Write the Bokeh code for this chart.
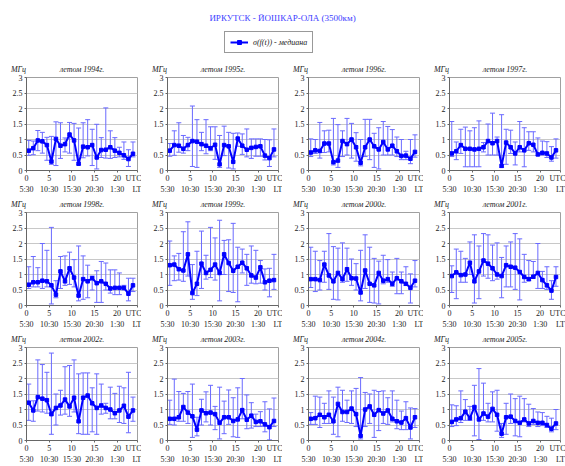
from bokeh.plotting import figure
from bokeh.models import (Range1d, Label, ColumnDataSource, Whisker, TeeHead, LinearAxis,
                          FixedTicker, Legend, LegendItem, NumeralTickFormatter)
from bokeh.layouts import column, row
from bokeh.embed import file_html
from bokeh.resources import INLINE

TITLE = "ИРКУТСК - ЙОШКАР-ОЛА (3500км)"
LEGEND_LABEL = "σ(f(t)) - медиана"
UNIT = "МГц"
hours = [0.5, 1.5, 2.5, 3.5, 4.5, 5.5, 6.5, 7.5, 8.5, 9.5, 10.5, 11.5,
         12.5, 13.5, 14.5, 15.5, 16.5, 17.5, 18.5, 19.5, 20.5, 21.5, 22.5, 23.5]
utc_ticks = [0, 5, 10, 15, 20]
utc_labels = ["0", "5", "10", "15", "20"]
lt_labels = ["5:30", "10:30", "15:30", "20:30", "1:30"]
y_ticks = [0, 0.5, 1, 1.5, 2, 2.5, 3]

med_1994 = [0.64,0.72,0.97,0.94,0.82,0.29,1.02,0.80,0.85,1.16,0.97,0.22,0.77,0.75,0.82,0.42,0.66,0.67,0.75,0.64,0.57,0.49,0.37,0.54]
up_1994 = [0.97,0.95,1.29,1.23,1.07,1.10,1.57,1.54,1.05,1.55,1.52,1.37,1.54,1.64,1.33,1.49,1.06,2.02,1.28,1.06,0.75,0.92,0.67,0.92]
lo_1994 = [0.49,0.51,0.64,0.56,0.33,0.20,0.16,0.39,0.60,0.56,0.33,0.18,0.41,0.47,0.16,0.05,0.42,0.40,0.39,0.42,0.44,0.36,0.13,0.44]

med_1995 = [0.64,0.82,0.80,0.70,0.82,0.95,0.93,0.85,0.80,0.72,0.83,0.20,0.82,0.78,0.28,1.03,0.80,0.67,0.73,0.76,0.78,0.48,0.40,0.68]
up_1995 = [0.87,1.28,1.54,1.13,1.07,2.08,1.64,1.23,1.64,1.41,1.41,1.13,1.43,1.23,1.20,1.21,1.18,1.34,1.02,1.02,1.02,1.00,0.99,1.34]
lo_1995 = [0.46,0.49,0.59,0.56,0.64,0.13,0.10,0.64,0.54,0.64,0.36,0.10,0.48,0.08,0.05,0.78,0.52,0.44,0.39,0.46,0.46,0.34,0.13,0.44]

med_1996 = [0.58,0.65,0.63,0.87,0.87,0.27,0.32,0.95,0.85,1.00,0.75,0.25,0.75,1.00,0.78,0.68,0.92,0.68,0.80,0.62,0.47,0.48,0.38,0.60]
up_1996 = [1.02,1.00,1.55,1.28,1.30,1.68,1.48,1.28,1.68,1.52,1.22,1.00,1.65,1.65,1.20,1.38,1.58,1.42,1.32,1.08,1.00,0.62,1.00,1.15]
lo_1996 = [0.45,0.55,0.40,0.58,0.60,0.18,0.10,0.45,0.50,0.40,0.30,0.15,0.45,0.35,0.10,0.05,0.50,0.50,0.50,0.45,0.35,0.35,0.22,0.43]

med_1997 = [0.55,0.62,0.82,0.70,0.70,0.68,0.70,0.75,0.95,0.88,0.95,0.15,0.90,0.75,0.55,0.75,0.65,0.88,0.83,0.52,0.57,0.55,0.42,0.65]
up_1997 = [1.58,0.92,1.33,1.40,1.28,1.38,1.60,0.90,1.50,1.85,1.08,1.80,1.33,1.30,0.92,1.58,1.38,1.25,1.25,1.05,0.95,0.93,0.77,1.02]
lo_1997 = [0.45,0.35,0.55,0.12,0.12,0.12,0.12,0.60,0.50,0.50,0.50,0.10,0.20,0.55,0.18,0.60,0.12,0.65,0.60,0.48,0.50,0.42,0.30,0.40]

med_1998 = [0.67,0.75,0.75,0.80,0.78,0.65,0.35,1.10,0.78,1.20,0.90,0.32,0.85,0.78,0.88,0.72,0.78,0.70,0.55,0.57,0.57,0.57,0.38,0.65]
up_1998 = [1.25,1.58,1.22,2.00,1.78,2.52,0.80,1.58,1.60,1.72,1.48,1.92,1.60,1.30,0.95,1.12,1.42,1.37,1.15,1.15,1.05,0.65,0.88,0.88]
lo_1998 = [0.55,0.60,0.60,0.55,0.60,0.05,0.25,0.55,0.65,0.68,0.60,0.15,0.20,0.25,0.50,0.10,0.10,0.50,0.40,0.35,0.35,0.50,0.15,0.45]

med_1999 = [1.30,1.32,1.17,1.13,1.65,0.40,0.70,1.35,1.05,1.15,1.32,1.05,1.65,1.37,1.12,1.25,1.38,1.20,0.97,0.90,1.23,0.75,0.80,0.82]
up_1999 = [2.08,1.60,1.68,2.38,2.70,1.32,1.75,2.40,1.62,2.52,2.18,2.75,2.10,2.12,2.65,1.88,1.82,1.65,1.92,1.78,1.45,1.18,1.20,1.65]
lo_1999 = [0.65,0.80,0.82,0.78,0.95,0.20,0.32,0.55,0.85,0.90,0.82,0.15,1.00,0.45,0.42,0.12,1.05,0.65,0.72,0.70,0.72,0.50,0.28,0.52]

med_2000 = [0.85,0.85,0.82,1.32,0.97,0.78,1.05,0.85,1.17,0.88,0.87,0.42,1.13,0.70,0.65,1.05,0.80,0.85,0.70,0.88,0.78,0.70,0.57,0.80]
up_2000 = [1.88,1.75,1.45,1.75,2.32,1.90,1.85,2.02,1.85,1.50,1.35,1.78,2.28,1.88,1.52,1.43,1.62,1.48,1.08,1.52,1.08,1.25,1.02,1.45]
lo_2000 = [0.58,0.45,0.50,0.75,0.52,0.20,0.18,0.75,0.78,0.65,0.50,0.15,0.55,0.10,0.08,0.05,0.70,0.75,0.62,0.38,0.38,0.65,0.08,0.60]

med_2001 = [0.95,1.07,0.98,1.00,1.38,0.78,1.10,1.45,1.35,1.20,1.00,0.95,1.30,1.25,1.22,1.08,0.92,0.85,0.93,1.05,0.82,0.65,0.48,0.92]
up_2001 = [1.28,1.82,1.75,1.52,2.05,2.28,1.92,2.32,2.28,1.95,2.02,1.55,1.92,2.05,2.32,2.15,1.65,1.45,1.42,2.00,1.10,1.25,0.80,1.25]
lo_2001 = [0.42,0.22,0.75,0.75,1.00,0.08,0.22,0.95,0.88,0.80,0.85,0.25,0.60,0.60,0.52,0.18,0.75,0.80,0.88,0.55,0.55,0.52,0.20,0.62]

med_2002 = [1.22,0.97,1.40,1.35,1.30,0.85,1.05,1.13,1.32,1.10,1.38,0.62,1.38,1.45,1.20,1.05,1.13,1.05,1.00,0.88,0.97,1.12,0.77,0.97]
up_2002 = [1.82,1.28,2.60,2.45,2.20,2.82,1.50,1.62,2.38,2.42,2.60,2.15,2.18,2.18,1.70,2.15,1.82,1.20,1.72,1.52,1.75,1.70,2.20,1.40]
lo_2002 = [0.65,0.62,0.95,0.92,0.88,0.20,0.50,0.82,0.85,0.78,0.92,0.22,0.20,0.20,0.28,0.20,0.85,0.88,0.70,0.70,0.58,0.55,0.25,0.62]

med_2003 = [0.70,0.70,0.75,1.08,0.90,0.78,0.35,0.97,0.88,0.90,0.85,0.57,0.75,0.75,0.63,0.68,0.98,0.67,0.80,0.60,0.62,0.52,0.43,0.63]
up_2003 = [1.30,1.98,1.58,1.52,1.58,1.82,0.75,1.33,1.57,1.78,1.10,1.72,1.27,1.63,1.38,1.70,2.00,1.47,1.22,0.85,0.93,1.25,1.02,1.37]
lo_2003 = [0.52,0.50,0.62,0.62,0.55,0.10,0.15,0.50,0.60,0.50,0.35,0.05,0.22,0.52,0.12,0.10,0.70,0.38,0.40,0.45,0.45,0.28,0.02,0.45]

med_2004 = [0.70,0.72,0.83,0.75,0.83,0.62,1.18,0.92,0.92,1.03,0.85,0.15,1.00,1.10,0.83,0.98,0.87,0.97,0.70,0.62,0.58,0.72,0.42,0.75]
up_2004 = [0.90,1.43,1.40,1.20,1.60,1.40,1.72,1.62,1.30,1.60,1.68,2.03,1.55,1.50,1.62,1.58,1.60,1.38,1.60,1.30,0.95,1.25,1.05,1.03]
lo_2004 = [0.52,0.52,0.42,0.55,0.55,0.20,0.12,0.62,0.58,0.55,0.45,0.05,0.45,0.55,0.10,0.32,0.55,0.52,0.60,0.38,0.35,0.35,0.05,0.42]

med_2005 = [0.60,0.68,0.72,0.93,0.72,1.08,0.68,0.87,0.77,1.02,0.83,0.22,0.75,0.77,0.63,0.57,0.68,0.55,0.63,0.57,0.57,0.50,0.38,0.55]
up_2005 = [1.15,1.12,1.60,1.32,1.10,1.78,2.32,1.85,1.20,1.57,1.62,0.55,1.20,1.50,1.35,1.43,1.35,1.17,1.03,0.92,0.90,0.78,0.72,1.00]
lo_2005 = [0.45,0.48,0.58,0.65,0.65,0.15,0.03,0.65,0.60,0.60,0.30,0.10,0.20,0.55,0.15,0.12,0.60,0.45,0.52,0.45,0.48,0.42,0.28,0.35]

panels = [
    ("летом 1994г.", med_1994, up_1994, lo_1994),
    ("летом 1995г.", med_1995, up_1995, lo_1995),
    ("летом 1996г.", med_1996, up_1996, lo_1996),
    ("летом 1997г.", med_1997, up_1997, lo_1997),
    ("летом 1998г.", med_1998, up_1998, lo_1998),
    ("летом 1999г.", med_1999, up_1999, lo_1999),
    ("летом 2000г.", med_2000, up_2000, lo_2000),
    ("летом 2001г.", med_2001, up_2001, lo_2001),
    ("летом 2002г.", med_2002, up_2002, lo_2002),
    ("летом 2003г.", med_2003, up_2003, lo_2003),
    ("летом 2004г.", med_2004, up_2004, lo_2004),
    ("летом 2005г.", med_2005, up_2005, lo_2005),
]

FONT = "Liberation Serif"
TEXT_COLOR = "#222222"
LINE_COLOR = "#0000ff"
ERR_COLOR = "#6a6aff"
FRAME_W = 111
X_END = 24.5
TITLE_ANCHOR = X_END / 2
# em spaces after the unit push the (centred) text left of the frame corner
UNIT_TEXT = UNIT + "\u2003\u2003"


def style_axis(ax, size="8px"):
    ax.major_label_text_font = FONT
    ax.major_label_text_font_size = size
    ax.major_label_text_color = TEXT_COLOR
    ax.minor_tick_line_color = None
    ax.major_tick_in = 0


def make_panel(title, med, up, lo, width):
    p = figure(width=width, height=135, x_range=Range1d(0, X_END), y_range=Range1d(0, 3),
               output_backend="svg", toolbar_location=None,
               min_border_left=26, min_border_right=width - 26 - FRAME_W,
               min_border_top=15, min_border_bottom=22,
               background_fill_color="white", border_fill_color="white")
    p.outline_line_color = "#a0a0a0"
    p.xgrid.visible = False
    p.ygrid.ticker = FixedTicker(ticks=y_ticks)
    p.ygrid.grid_line_color = "#c8c8c8"

    # bottom axis: UTC hours, with the "UTC" caption at the right end
    xa = p.xaxis[0]
    xa.ticker = FixedTicker(ticks=utc_ticks + [X_END])
    xa.major_label_overrides = {**dict(zip(utc_ticks, utc_labels)), X_END: "UTC"}
    style_axis(xa)
    xa.axis_line_color = "#666666"
    xa.major_tick_line_color = "#666666"
    xa.major_tick_out = 2
    xa.major_label_standoff = 1

    # second bottom axis: local time
    lt_axis = LinearAxis(ticker=FixedTicker(ticks=utc_ticks + [X_END]),
                         major_label_overrides={**dict(zip(utc_ticks, lt_labels)), X_END: "LT"},
                         axis_line_color=None, major_tick_line_color=None,
                         major_tick_out=0, major_label_standoff=-1)
    style_axis(lt_axis)
    p.add_layout(lt_axis, "below")

    ya = p.yaxis[0]
    ya.ticker = FixedTicker(ticks=y_ticks)
    ya.formatter = NumeralTickFormatter(format="0.[0]")
    style_axis(ya)
    ya.axis_line_color = "#666666"
    ya.major_tick_line_color = "#666666"
    ya.major_tick_out = 2
    ya.major_label_standoff = 2

    # top axis carrying the unit and the panel title
    top_axis = LinearAxis(ticker=FixedTicker(ticks=[0, TITLE_ANCHOR]),
                          major_label_overrides={0: UNIT_TEXT, TITLE_ANCHOR: title},
                          axis_line_color=None, major_tick_line_color=None,
                          major_tick_out=0, major_label_standoff=4)
    style_axis(top_axis)
    top_axis.major_label_text_font_style = "italic"
    p.add_layout(top_axis, "above")

    src = ColumnDataSource(dict(x=hours, med=med, up=up, lo=lo))
    wh = Whisker(source=src, base="x", upper="up", lower="lo", dimension="height",
                 line_color=ERR_COLOR, line_width=1, level="underlay",
                 upper_head=TeeHead(size=5, line_color=ERR_COLOR, line_width=1),
                 lower_head=TeeHead(size=5, line_color=ERR_COLOR, line_width=1))
    p.add_layout(wh)
    p.line("x", "med", source=src, line_color=LINE_COLOR, line_width=2)
    p.scatter("x", "med", source=src, marker="square", size=3.5,
              fill_color=LINE_COLOR, line_color=LINE_COLOR)
    return p


# header with title and legend
header = figure(width=565, height=61, x_range=Range1d(0, 565), y_range=Range1d(0, 61),
                output_backend="svg", toolbar_location=None, min_border=0,
                background_fill_color="white", border_fill_color="white")
header.axis.visible = False
header.grid.visible = False
header.outline_line_color = None
header.add_layout(Label(x=282, y=44, text=TITLE, text_align="center", text_baseline="middle",
                        text_font=FONT, text_font_size="9px", text_color="#3c3cff"))
nan = float("nan")
r_line = header.line(x=[nan], y=[nan], line_color=LINE_COLOR, line_width=2)
r_mark = header.scatter(x=[nan], y=[nan], marker="square", size=4, fill_color=LINE_COLOR,
                        line_color=LINE_COLOR)
leg = Legend(items=[LegendItem(label=LEGEND_LABEL, renderers=[r_line, r_mark])],
             location=(224, 8), padding=5, margin=0, spacing=0, glyph_width=18,
             glyph_height=10, label_standoff=5, label_text_font=FONT,
             label_text_font_size="8px", label_text_font_style="italic",
             label_text_color=TEXT_COLOR, border_line_color="#333333", border_line_width=1,
             background_fill_color="white")
header.add_layout(leg)

figs = []
for i, (t, m, u, l) in enumerate(panels):
    w = 142 if i % 4 == 3 else 141
    figs.append(make_panel(t, m, u, l, w))

layout = column(header, row(*figs[0:4]), row(*figs[4:8]), row(*figs[8:12]))
open("out.html", "w").write(file_html(layout, INLINE))
